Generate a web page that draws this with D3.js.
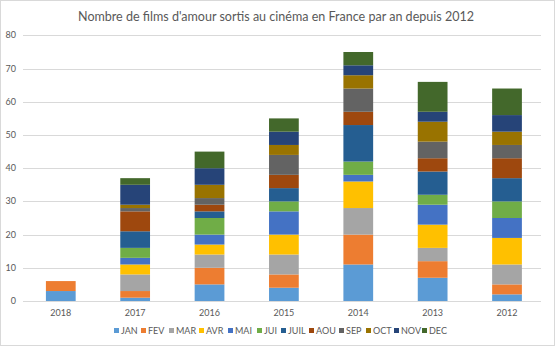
<!DOCTYPE html>
<html><head><meta charset="utf-8">
<script src="https://cdn.jsdelivr.net/npm/d3@7"></script>
<style>body{margin:0;background:#fff}svg{display:block;font-family:Lato,"Open Sans","Liberation Sans",sans-serif}</style>
</head><body>
<svg id="c" width="555" height="346"></svg>
<script>
const years = ["2018","2017","2016","2015","2014","2013","2012"];
const months = ["JAN","FEV","MAR","AVR","MAI","JUI","JUIL","AOU","SEP","OCT","NOV","DEC"];
const colors = ["#5B9BD5","#ED7D31","#A5A5A5","#FFC000","#4472C4","#70AD47","#255E91","#9E480E","#636363","#997300","#264478","#43682B"];
const JAN  = [3, 1, 5, 4, 11, 7, 2];
const FEV  = [3, 2, 5, 4, 9, 5, 3];
const MAR  = [0, 5, 4, 6, 8, 4, 6];
const AVR  = [0, 3, 3, 6, 8, 7, 8];
const MAI  = [0, 2, 3, 7, 2, 6, 6];
const JUI  = [0, 3, 5, 3, 4, 3, 5];
const JUIL = [0, 5, 2, 4, 11, 7, 7];
const AOU  = [0, 6, 2, 4, 4, 4, 6];
const SEP  = [0, 1, 2, 6, 7, 5, 4];
const OCT  = [0, 1, 4, 3, 4, 6, 4];
const NOV  = [0, 6, 5, 4, 3, 3, 5];
const DEC  = [0, 2, 5, 4, 4, 9, 8];
const yTicks = [0,10,20,30,40,50,60,70,80];
const title = "Nombre de films d'amour sortis au cinéma en France par an depuis 2012";

const series = [JAN,FEV,MAR,AVR,MAI,JUI,JUIL,AOU,SEP,OCT,NOV,DEC];
const rows = years.map((y,i)=>{const o={year:y}; months.forEach((m,j)=>o[m]=series[j][i]); return o;});
const stacked = d3.stack().keys(months)(rows);

const svg = d3.select("#c");
const W=555,H=346;
svg.append("rect").attr("x",0.5).attr("y",0.5).attr("width",W-1).attr("height",H-1).attr("fill","#fff").attr("stroke","#d9d9d9");

const x = d3.scaleBand().domain(years).range([23.6,544.2]).padding(0);
const y = d3.scaleLinear().domain([0,80]).range([301,35.4]);
const bw = x.bandwidth()*0.4;

svg.append("text").attr("x",276).attr("y",21).attr("text-anchor","middle")
  .attr("font-size",14).attr("fill","#595959")
  .attr("textLength",396).attr("lengthAdjust","spacingAndGlyphs").text(title);

const grid = svg.append("g");
yTicks.forEach(t=>{
  grid.append("line").attr("x1",23).attr("x2",541).attr("y1",Math.round(y(t))+0.5).attr("y2",Math.round(y(t))+0.5)
    .attr("stroke","#d9d9d9").attr("stroke-width",1);
  grid.append("text").attr("x",16).attr("y",y(t)+3).attr("text-anchor","end")
    .attr("font-size",9).attr("fill","#595959").text(t);
});

const g = svg.append("g");
stacked.forEach((s,k)=>{
  g.selectAll(null).data(s).enter().append("rect")
    .attr("x",d=>x(d.data.year)+x.bandwidth()/2-bw/2)
    .attr("width",bw)
    .attr("y",d=>y(d[1]))
    .attr("height",d=>y(d[0])-y(d[1]))
    .attr("fill",colors[k]);
});

years.forEach(yr=>{
  svg.append("text").attr("x",x(yr)+x.bandwidth()/2).attr("y",316).attr("text-anchor","middle")
    .attr("font-size",9).attr("fill","#595959").text(yr);
});

const lx=[114,141,169,199,228,257,281,309,339,366,394,422];
months.forEach((m,i)=>{
  svg.append("rect").attr("x",lx[i]).attr("y",328).attr("width",5).attr("height",5).attr("fill",colors[i]);
  svg.append("text").attr("x",lx[i]+7).attr("y",334).attr("font-size",9).attr("fill","#595959").text(m);
});
</script>
</body></html>
